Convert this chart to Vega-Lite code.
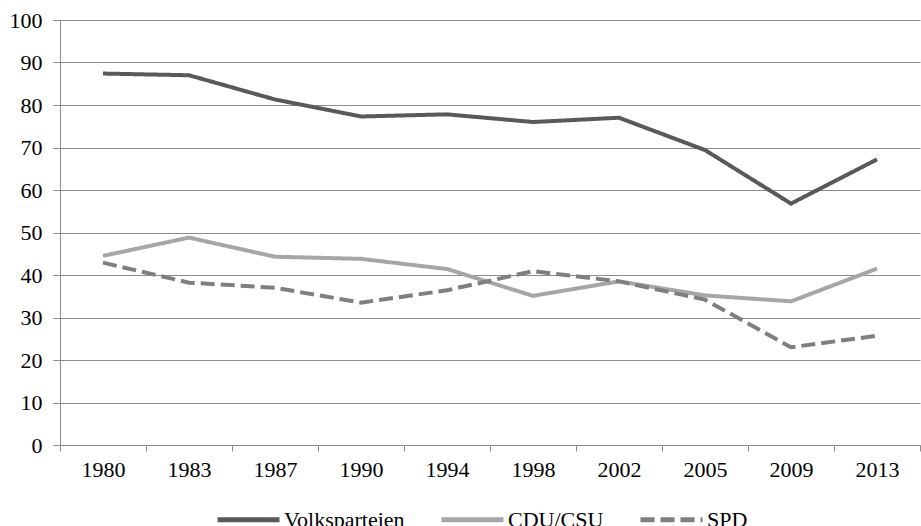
{
  "$schema": "https://vega.github.io/schema/vega-lite/v6.json",
  "width": 860,
  "height": 425,
  "autosize": {"type": "none"},
  "padding": {"left": 60, "top": 20, "right": 1, "bottom": 81},
  "background": "white",
  "config": {
    "view": {"stroke": null},
    "font": "Liberation Serif",
    "axis": {"labelFont": "Liberation Serif"},
    "legend": {"labelFont": "Liberation Serif"}
  },
  "data": {
    "values": [
      {"year": "1980", "party": "Volksparteien", "value": 87.4},
      {"year": "1983", "party": "Volksparteien", "value": 87.0},
      {"year": "1987", "party": "Volksparteien", "value": 81.3},
      {"year": "1990", "party": "Volksparteien", "value": 77.3},
      {"year": "1994", "party": "Volksparteien", "value": 77.8},
      {"year": "1998", "party": "Volksparteien", "value": 76.0},
      {"year": "2002", "party": "Volksparteien", "value": 77.0},
      {"year": "2005", "party": "Volksparteien", "value": 69.4},
      {"year": "2009", "party": "Volksparteien", "value": 56.8},
      {"year": "2013", "party": "Volksparteien", "value": 67.2},
      {"year": "1980", "party": "CDU/CSU", "value": 44.5},
      {"year": "1983", "party": "CDU/CSU", "value": 48.8},
      {"year": "1987", "party": "CDU/CSU", "value": 44.3},
      {"year": "1990", "party": "CDU/CSU", "value": 43.8},
      {"year": "1994", "party": "CDU/CSU", "value": 41.4},
      {"year": "1998", "party": "CDU/CSU", "value": 35.1},
      {"year": "2002", "party": "CDU/CSU", "value": 38.5},
      {"year": "2005", "party": "CDU/CSU", "value": 35.2},
      {"year": "2009", "party": "CDU/CSU", "value": 33.8},
      {"year": "2013", "party": "CDU/CSU", "value": 41.5},
      {"year": "1980", "party": "SPD", "value": 42.9},
      {"year": "1983", "party": "SPD", "value": 38.2},
      {"year": "1987", "party": "SPD", "value": 37.0},
      {"year": "1990", "party": "SPD", "value": 33.5},
      {"year": "1994", "party": "SPD", "value": 36.4},
      {"year": "1998", "party": "SPD", "value": 40.9},
      {"year": "2002", "party": "SPD", "value": 38.5},
      {"year": "2005", "party": "SPD", "value": 34.2},
      {"year": "2009", "party": "SPD", "value": 23.0},
      {"year": "2013", "party": "SPD", "value": 25.7}
    ]
  },
  "mark": {"type": "line", "strokeWidth": 4, "strokeCap": "butt"},
  "encoding": {
    "x": {
      "field": "year",
      "type": "ordinal",
      "scale": {"type": "band", "paddingInner": 0, "paddingOuter": 0},
      "axis": {
        "title": null,
        "labelAngle": 0,
        "labelFont": "Liberation Serif",
        "labelFontSize": 22,
        "labelColor": "black",
        "labelPadding": 8,
        "tickBand": "extent",
        "tickSize": 6,
        "tickColor": "#8c8c8c",
        "domainColor": "#8c8c8c",
        "grid": false
      }
    },
    "y": {
      "field": "value",
      "type": "quantitative",
      "scale": {"domain": [0, 100], "nice": false},
      "axis": {
        "title": null,
        "values": [0, 10, 20, 30, 40, 50, 60, 70, 80, 90, 100],
        "labelFont": "Liberation Serif",
        "labelFontSize": 22,
        "labelColor": "black",
        "labelPadding": 11,
        "tickSize": 7,
        "tickColor": "#8c8c8c",
        "domainColor": "#8c8c8c",
        "gridColor": "#8c8c8c",
        "gridWidth": 1
      }
    },
    "color": {
      "field": "party",
      "type": "nominal",
      "sort": ["Volksparteien", "CDU/CSU", "SPD"],
      "scale": {"domain": ["Volksparteien", "CDU/CSU", "SPD"], "range": ["#595959", "#a6a6a6", "#7f7f7f"]},
      "legend": {
        "title": null,
        "orient": "none",
        "direction": "horizontal",
        "legendX": 155,
        "legendY": 466,
        "symbolType": "stroke",
        "symbolSize": 3844,
        "symbolStrokeWidth": 5,
        "labelFont": "Liberation Serif",
        "labelFontSize": 22,
        "labelColor": "black",
        "labelOffset": 2,
        "columnPadding": 26
      }
    },
    "strokeDash": {
      "field": "party",
      "type": "nominal",
      "sort": ["Volksparteien", "CDU/CSU", "SPD"],
      "scale": {"domain": ["Volksparteien", "CDU/CSU", "SPD"], "range": [[1, 0], [1, 0], [14, 6]]},
      "legend": null
    }
  }
}
